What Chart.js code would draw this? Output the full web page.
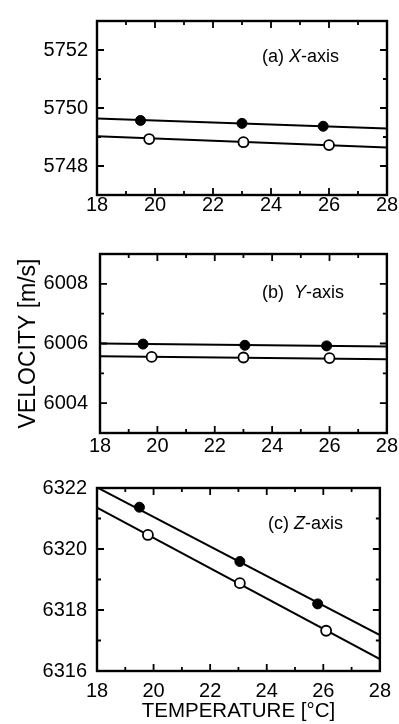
<!DOCTYPE html>
<html>
<head>
<meta charset="utf-8">
<script src="https://cdn.jsdelivr.net/npm/chart.js@4.4.1/dist/chart.umd.min.js"></script>
<style>
  html, body { margin: 0; padding: 0; background: #fff; }
  canvas { display: block; }
</style>
</head>
<body>
<canvas id="ca" width="399" height="230"></canvas>
<canvas id="cb" width="399" height="230"></canvas>
<canvas id="cc" width="399" height="264"></canvas>
<script>
// temperature [°C] / velocity [m/s]
const fitTemps = [18, 28];

// (a) X-axis
const tempAFilled = [19.5, 23.0, 25.8];
const velAFilled = [5749.57, 5749.47, 5749.37];
const tempAOpen = [19.8, 23.05, 26.0];
const velAOpen = [5748.93, 5748.82, 5748.72];
const fitAFilled = [5749.64, 5749.29];
const fitAOpen = [5749.03, 5748.64];

// (b) Y-axis
const tempBFilled = [19.5, 23.05, 25.9];
const velBFilled = [6005.98, 6005.94, 6005.92];
const tempBOpen = [19.8, 23.0, 26.0];
const velBOpen = [6005.55, 6005.53, 6005.51];
const fitBFilled = [6006.0, 6005.9];
const fitBOpen = [6005.57, 6005.47];

// (c) Z-axis
const tempCFilled = [19.5, 23.05, 25.8];
const velCFilled = [6321.37, 6319.59, 6318.2];
const tempCOpen = [19.8, 23.05, 26.1];
const velCOpen = [6320.46, 6318.88, 6317.32];
const fitCFilled = [6322.02, 6317.18];
const fitCOpen = [6321.36, 6316.39];

const FONT = "'Liberation Sans', Arial, Helvetica, sans-serif";

const pts = (xs, ys) => xs.map((x, i) => ({x: x, y: ys[i]}));

// box, inward ticks and the panel caption
const framePlugin = {
  id: 'frame',
  afterDatasetsDraw(chart, args, opts) {
    const {ctx, chartArea: a, scales} = chart;
    ctx.save();
    ctx.strokeStyle = '#000';
    ctx.lineWidth = 1.8;
    scales.x.ticks.forEach(t => {
      const px = scales.x.getPixelForValue(t.value);
      const len = t.label !== '' ? 7 : 4;
      ctx.beginPath();
      ctx.moveTo(px, a.bottom); ctx.lineTo(px, a.bottom - len);
      ctx.moveTo(px, a.top); ctx.lineTo(px, a.top + len);
      ctx.stroke();
    });
    scales.y.ticks.forEach(t => {
      const py = scales.y.getPixelForValue(t.value);
      const len = t.label !== '' ? 7 : 4;
      ctx.beginPath();
      ctx.moveTo(a.left, py); ctx.lineTo(a.left + len, py);
      ctx.moveTo(a.right, py); ctx.lineTo(a.right - len, py);
      ctx.stroke();
    });
    ctx.lineWidth = 2.4;
    ctx.strokeRect(a.left, a.top, a.right - a.left, a.bottom - a.top);

    let x = a.left + opts.dx;
    const y = a.top + opts.dy;
    ctx.fillStyle = '#000';
    ctx.textBaseline = 'middle';
    opts.parts.forEach(([txt, italic]) => {
      ctx.font = (italic ? 'italic ' : '') + '18px ' + FONT;
      ctx.fillText(txt, x, y);
      x += ctx.measureText(txt).width;
    });
    ctx.restore();
  }
};

function makePanel(id, p) {
  const datasets = [
    {data: pts(p.tf, p.vf), pointRadius: 5, pointBackgroundColor: '#000',
     pointBorderColor: '#000', pointBorderWidth: 1, showLine: false},
    {data: pts(p.to, p.vo), pointRadius: 5, pointBackgroundColor: '#fff',
     pointBorderColor: '#000', pointBorderWidth: 1.8, showLine: false},
    {data: pts(fitTemps, p.ff), showLine: true, pointRadius: 0,
     borderColor: '#000', borderWidth: 2},
    {data: pts(fitTemps, p.fo), showLine: true, pointRadius: 0,
     borderColor: '#000', borderWidth: 2}
  ];
  return new Chart(document.getElementById(id), {
    type: 'scatter',
    data: {datasets: datasets},
    plugins: [framePlugin],
    options: {
      responsive: false,
      animation: false,
      layout: {padding: {top: p.top, right: p.right, left: 0, bottom: 0}},
      plugins: {
        legend: {display: false},
        tooltip: {enabled: false},
        frame: {dx: p.dx, dy: p.dy, parts: p.caption}
      },
      scales: {
        x: {
          min: 18, max: 28,
          grid: {display: false, drawTicks: false},
          border: {display: false},
          ticks: {stepSize: 1, autoSkip: false, maxRotation: 0, padding: p.xpad,
                  color: '#000', font: {family: FONT, size: 20},
                  callback: v => v % 2 === 0 ? String(v) : ''},
          title: {display: !!p.xtitle, text: p.xtitle || '', color: '#000',
                  font: {family: FONT, size: 20.5}, padding: {top: 0, bottom: 0}},
          afterFit: s => { s.height = p.xh; }
        },
        y: {
          min: p.ymin, max: p.ymax,
          grid: {display: false, drawTicks: false},
          border: {display: false},
          ticks: {stepSize: 1, autoSkip: false, padding: p.ypad,
                  color: '#000', font: {family: FONT, size: 20},
                  callback: v => v % 2 === 0 ? String(v) : ''},
          title: {display: !!p.ytitle, text: p.ytitle || '', color: '#000',
                  font: {family: FONT, size: 23}, padding: {top: 15, bottom: 0}},
          afterFit: s => { s.width = p.yw; }
        }
      }
    }
  });
}

makePanel('ca', {
  tf: tempAFilled, vf: velAFilled, to: tempAOpen, vo: velAOpen,
  ff: fitAFilled, fo: fitAOpen, ymin: 5747, ymax: 5753,
  top: 12, right: 12, yw: 97, xh: 35, xpad: -2, ypad: 9,
  dx: 165, dy: 36, caption: [['(a) ', false], ['X', true], ['-axis', false]]
});

makePanel('cb', {
  tf: tempBFilled, vf: velBFilled, to: tempBOpen, vo: velBOpen,
  ff: fitBFilled, fo: fitBOpen, ymin: 6003, ymax: 6009,
  top: 19, right: 12, yw: 100, xh: 27, xpad: 1, ypad: 12,
  ytitle: 'VELOCITY [m/s]',
  dx: 162, dy: 39, caption: [['(b)  ', false], ['Y', true], ['-axis', false]]
});

makePanel('cc', {
  tf: tempCFilled, vf: velCFilled, to: tempCOpen, vo: velCOpen,
  ff: fitCFilled, fo: fitCOpen, ymin: 6316, ymax: 6322,
  top: 28, right: 14, yw: 97, xh: 53, xpad: 8, ypad: 10,
  xtitle: 'TEMPERATURE [°C]',
  dx: 171, dy: 36, caption: [['(c) ', false], ['Z', true], ['-axis', false]]
});
</script>
</body>
</html>
